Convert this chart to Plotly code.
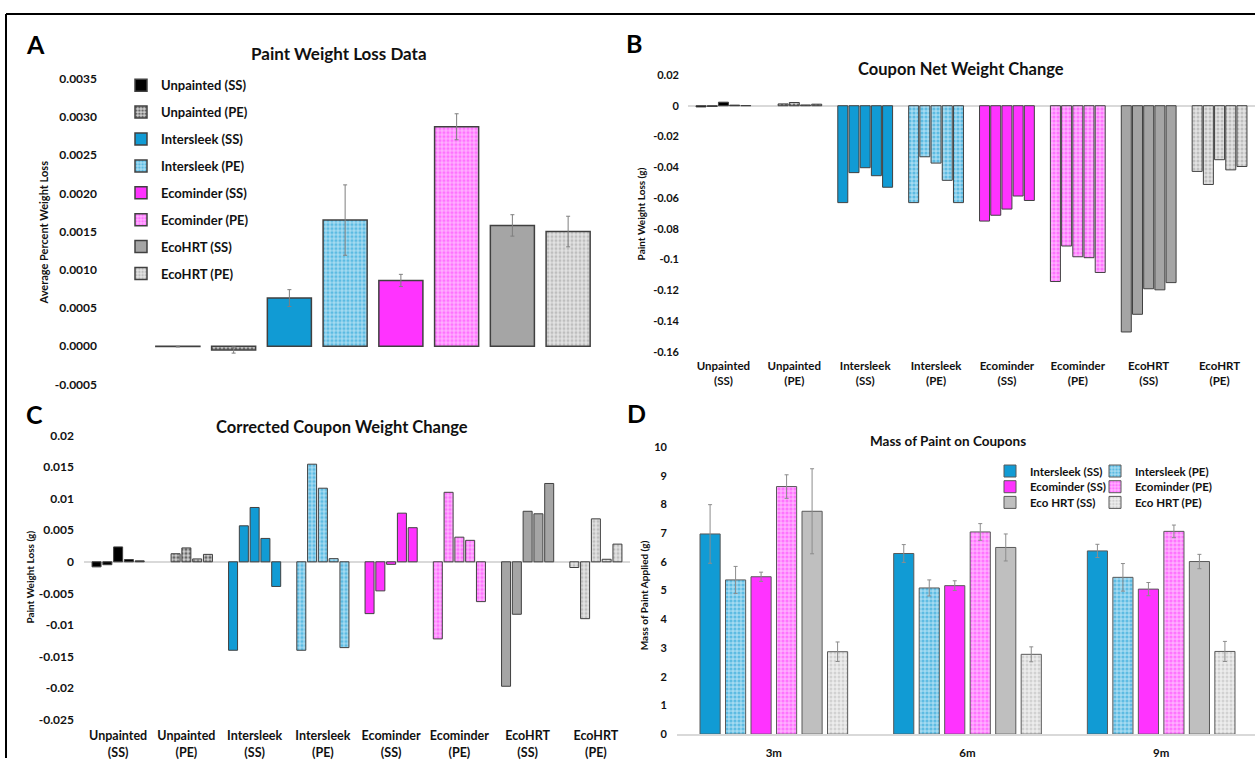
import plotly.graph_objects as go

W, H = 1255, 765

# ---------------- data ----------------
groups = ["Unpainted (SS)", "Unpainted (PE)", "Intersleek (SS)", "Intersleek (PE)",
          "Ecominder (SS)", "Ecominder (PE)", "EcoHRT (SS)", "EcoHRT (PE)"]
group_ticks = ["Unpainted<br>(SS)", "Unpainted<br>(PE)", "Intersleek<br>(SS)", "Intersleek<br>(PE)",
               "Ecominder<br>(SS)", "Ecominder<br>(PE)", "EcoHRT<br>(SS)", "EcoHRT<br>(PE)"]

# Panel A: average percent weight loss and error
loss_pct = [-0.000005, -0.00005, 0.00063, 0.00165, 0.00086, 0.00287, 0.00158, 0.00150]
loss_pct_err = [0.000005, 0.00004, 0.00011, 0.00046, 0.00008, 0.00017, 0.00014, 0.00020]
a_ticks = [0.0035, 0.0030, 0.0025, 0.0020, 0.0015, 0.0010, 0.0005, 0.0, -0.0005]
a_ticktext = ["0.0035", "0.0030", "0.0025", "0.0020", "0.0015", "0.0010", "0.0005", "0.0000", "-0.0005"]

# Panel B: coupon net weight change (5 coupons per group)
net_unpainted_ss = [-0.0008, -0.0005, 0.0023, 0.0004, 0.0001]
net_unpainted_pe = [None, 0.0012, 0.0021, 0.0005, 0.0010]
net_intersleek_ss = [-0.0630, -0.0435, -0.0403, -0.0455, -0.0530]
net_intersleek_pe = [-0.0630, -0.0332, -0.0373, -0.0485, -0.0630]
net_ecominder_ss = [-0.0750, -0.0712, -0.0672, -0.0587, -0.0616]
net_ecominder_pe = [-0.1143, -0.0912, -0.0982, -0.0988, -0.1084]
net_ecohrt_ss = [-0.1471, -0.1356, -0.1190, -0.1197, -0.1150]
net_ecohrt_pe = [-0.0427, -0.0512, -0.0351, -0.0417, -0.0395]
b_ticks = [0.02, 0, -0.02, -0.04, -0.06, -0.08, -0.1, -0.12, -0.14, -0.16]
b_ticktext = ["0.02", "0", "-0.02", "-0.04", "-0.06", "-0.08", "-0.1", "-0.12", "-0.14", "-0.16"]

# Panel C: corrected coupon weight change
cor_unpainted_ss = [-0.0008, -0.00046, 0.00236, 0.00036, 0.00015]
cor_unpainted_pe = [None, 0.00128, 0.0022, 0.00046, 0.00118]
cor_intersleek_ss = [-0.0140, 0.0057, 0.0086, 0.0037, -0.0039]
cor_intersleek_pe = [-0.0140, 0.01545, 0.01165, 0.0005, -0.01358]
cor_ecominder_ss = [-0.0082, -0.0046, -0.0004, 0.0077, 0.0054]
cor_ecominder_pe = [-0.0122, 0.0110, 0.0039, 0.0034, -0.0063]
cor_ecohrt_ss = [-0.0197, -0.0083, 0.0080, 0.0076, 0.0124]
cor_ecohrt_pe = [-0.0009, -0.0090, 0.0068, 0.0004, 0.0028]
c_ticks = [0.02, 0.015, 0.01, 0.005, 0, -0.005, -0.01, -0.015, -0.02, -0.025]
c_ticktext = ["0.02", "0.015", "0.01", "0.005", "0", "-0.005", "-0.01", "-0.015", "-0.02", "-0.025"]

# Panel D: mass of paint on coupons
months = ["3m", "6m", "9m"]
mass_series = ["Intersleek (SS)", "Intersleek (PE)", "Ecominder (SS)",
               "Ecominder (PE)", "Eco HRT (SS)", "Eco HRT (PE)"]
mass_intersleek_ss = [6.97, 6.29, 6.38]
mass_intersleek_pe = [5.37, 5.09, 5.46]
mass_ecominder_ss = [5.48, 5.17, 5.05]
mass_ecominder_pe = [8.62, 7.04, 7.06]
mass_ecohrt_ss = [7.76, 6.50, 6.01]
mass_ecohrt_pe = [2.87, 2.78, 2.88]
err_intersleek_ss = [1.02, 0.31, 0.23]
err_intersleek_pe = [0.47, 0.28, 0.48]
err_ecominder_ss = [0.16, 0.17, 0.23]
err_ecominder_pe = [0.41, 0.29, 0.22]
err_ecohrt_ss = [1.48, 0.47, 0.25]
err_ecohrt_pe = [0.34, 0.26, 0.35]
d_ticks = [0, 1, 2, 3, 4, 5, 6, 7, 8, 9, 10]

# ---------------- style ----------------
BLUE = "#119BD4"
MAG = "#FF33FF"
GRAY = "#A5A5A5"
GRAY_D = "#BFBFBF"
BLACK = "#000000"
EDGE = "#404040"
FONT = "Lato"
TXT = "#111111"

cat_fill = [BLACK, "white", BLUE, "white", MAG, "white", GRAY, "white"]
cat_fg = [BLACK, BLACK, BLUE, BLUE, MAG, MAG, GRAY, "#9A9A9A"]
cat_bg = ["white", "#D0D0D0", "white", "#A6DBF1", "white", "#FFB0FF", "white", "#E2E2E2"]
cat_shape = ["", ".", "", ".", "", ".", "", "."]
cat_solid = [0.3, 0.5, 0.3, 0.5, 0.3, 0.5, 0.3, 0.45]


def px(x):
    return x / W


def py(y):
    return 1 - y / H


def f(size, color=TXT):
    return dict(family=FONT, size=size, color=color, weight=700)


def bar_marker(i, lw):
    m = dict(color=cat_fill[i], line=dict(color=EDGE, width=lw))
    if cat_shape[i]:
        m["pattern"] = dict(shape=cat_shape[i], fgcolor=cat_fg[i], bgcolor=cat_bg[i],
                            size=4, solidity=cat_solid[i])
    return m


fig = go.Figure()

# ---- Panel A ----
for i, g in enumerate(groups):
    fig.add_trace(go.Bar(
        x=[g], y=[loss_pct[i]], name=g, legend="legend", legendgroup=g,
        offsetgroup="A", xaxis="x", yaxis="y",
        error_y=dict(type="data", array=[loss_pct_err[i]], color="#7F7F7F", thickness=1, width=2),
        marker=bar_marker(i, 1.5),
    ))

# ---- Panel B & C (one trace per group & coupon, coupons share offset slots) ----
net_lists = [net_unpainted_ss, net_unpainted_pe, net_intersleek_ss, net_intersleek_pe,
             net_ecominder_ss, net_ecominder_pe, net_ecohrt_ss, net_ecohrt_pe]
cor_lists = [cor_unpainted_ss, cor_unpainted_pe, cor_intersleek_ss, cor_intersleek_pe,
             cor_ecominder_ss, cor_ecominder_pe, cor_ecohrt_ss, cor_ecohrt_pe]

for lists, xa, ya, wd, tag in [(net_lists, "x2", "y2", 0.141, "B"), (cor_lists, "x3", "y3", 0.132, "C")]:
    for i, g in enumerate(groups):
        for r in range(5):
            fig.add_trace(go.Bar(
                x=[g], y=[lists[i][r]], xaxis=xa, yaxis=ya, showlegend=False,
                offsetgroup=f"{tag}{r}", width=wd, marker=bar_marker(i, 1),
            ))

# ---- Panel D ----
mass_vals = [mass_intersleek_ss, mass_intersleek_pe, mass_ecominder_ss,
             mass_ecominder_pe, mass_ecohrt_ss, mass_ecohrt_pe]
mass_errs = [err_intersleek_ss, err_intersleek_pe, err_ecominder_ss,
             err_ecominder_pe, err_ecohrt_ss, err_ecohrt_pe]
d_fill = [BLUE, "white", MAG, "white", GRAY_D, "white"]
d_fg = [BLUE, BLUE, MAG, MAG, GRAY_D, "#B5B5B5"]
d_bg = ["white", "#A6DBF1", "white", "#FFB0FF", "white", "#EDEDED"]
d_shape = ["", ".", "", ".", "", "."]
d_solid = [0.3, 0.5, 0.3, 0.5, 0.3, 0.45]
d_legends = ["legend3", "legend4", "legend5", "legend6", "legend7", "legend8"]
for k, s in enumerate(mass_series):
    mk = dict(color=d_fill[k], line=dict(color="#595959", width=1))
    if d_shape[k]:
        mk["pattern"] = dict(shape=d_shape[k], fgcolor=d_fg[k], bgcolor=d_bg[k],
                             size=4, solidity=d_solid[k])
    fig.add_trace(go.Bar(
        x=months, y=mass_vals[k], name=s, xaxis="x4", yaxis="y4",
        legend=d_legends[k], width=0.104,
        error_y=dict(type="data", array=mass_errs[k], color="#8C8C8C", thickness=1, width=2),
        marker=mk,
    ))

common_y = dict(showgrid=False, ticks="", showline=False)
common_x = dict(showgrid=False, ticks="", showline=False, zeroline=False, type="category")

# one single-entry legend per cell of panel D's 2-column legend
d_leg_layout = {}
for k, name in enumerate(d_legends):
    col, row = k % 2, k // 2
    d_leg_layout[name] = dict(x=px(990 + 105 * col), y=py(457.5 + 16 * row),
                              xanchor="left", yanchor="top",
                              font=f(11.5), bgcolor="rgba(0,0,0,0)")

fig.update_layout(
    width=W, height=H, margin=dict(l=0, r=0, t=0, b=0),
    paper_bgcolor="white", plot_bgcolor="white",
    barmode="group", bargap=0.21, bargroupgap=0,
    font=dict(family=FONT, color=TXT),
    xaxis=dict(domain=[px(150), px(596)], anchor="y", range=[-0.5, 7.5],
               categoryorder="array", categoryarray=groups, showticklabels=False, **common_x),
    yaxis=dict(domain=[py(384), py(72)], anchor="x", range=[-0.0005, 0.0035],
               tickvals=a_ticks, ticktext=a_ticktext, tickfont=f(12), zeroline=False,
               ticklabelstandoff=52, **common_y),
    xaxis2=dict(domain=[px(688), 1], anchor="y2", range=[-0.5, 7.5],
                categoryorder="array", categoryarray=groups,
                tickvals=groups, ticktext=group_ticks, tickfont=f(11.5), ticklabelstandoff=6, **common_x),
    yaxis2=dict(domain=[py(350.7), py(68.3)], anchor="x2", range=[-0.16, 0.02],
                tickvals=b_ticks, ticktext=b_ticktext, tickfont=f(11),
                zeroline=True, zerolinecolor="#D9D9D9", zerolinewidth=1.5,
                ticklabelstandoff=8, **common_y),
    xaxis3=dict(domain=[px(84), px(630)], anchor="y3", range=[-0.5, 7.5],
                categoryorder="array", categoryarray=groups,
                tickvals=groups, ticktext=group_ticks, tickfont=f(12.5), ticklabelstandoff=7, **common_x),
    yaxis3=dict(domain=[py(726), py(436)], anchor="x3", range=[-0.025, 0.02],
                tickvals=c_ticks, ticktext=c_ticktext, tickfont=f(12),
                zeroline=True, zerolinecolor="#D9D9D9", zerolinewidth=1.5,
                ticklabelstandoff=9, **common_y),
    xaxis4=dict(domain=[px(677), 1], anchor="y4",
                range=[-0.5, -0.5 + 3 * (W - 677) / (1258 - 677)],
                tickfont=f(11.5), ticklabelstandoff=7,
                showgrid=False, ticks="", zeroline=False, type="category",
                showline=True, linecolor="#D9D9D9", linewidth=1.5),
    yaxis4=dict(domain=[py(740.7), py(447.7)], anchor="x4", range=[0, 10],
                tickvals=d_ticks, tickfont=f(11), zeroline=False,
                ticklabelstandoff=9, **common_y),
    legend=dict(x=px(121), y=py(63.5), xanchor="left", yanchor="top",
                font=f(13), tracegroupgap=7, bgcolor="rgba(0,0,0,0)"),
    **d_leg_layout,
)

annotations = [
    # panel letters
    dict(text="A", x=px(35), y=py(37), font=f(25, "#000000")),
    dict(text="B", x=px(634), y=py(36), font=f(25, "#000000")),
    dict(text="C", x=px(34), y=py(414), font=f(25, "#000000")),
    dict(text="D", x=px(636), y=py(413), font=f(25, "#000000")),
    # titles
    dict(text="Paint Weight Loss Data", x=px(339), y=py(46), font=f(17)),
    dict(text="Coupon Net Weight Change", x=px(961), y=py(62), font=f(16.5)),
    dict(text="Corrected Coupon Weight Change", x=px(342), y=py(427), font=f(16.5)),
    dict(text="Mass of Paint on Coupons", x=px(948), y=py(442), font=f(13.5)),
    # y-axis titles
    dict(text="Average Percent Weight Loss", x=px(44), y=py(229), textangle=-90, font=f(11)),
    dict(text="Paint Weight Loss (g)", x=px(640.5), y=py(210), textangle=-90, font=f(10)),
    dict(text="Paint Weight Loss (g)", x=px(30), y=py(581), textangle=-90, font=f(10)),
    dict(text="Mass of Paint Applied (g)", x=px(644), y=py(599), textangle=-90, font=f(10)),
]
for a in annotations:
    a.update(xref="paper", yref="paper", showarrow=False, xanchor="center", yanchor="middle")
fig.update_layout(annotations=annotations)

# outer frame (top and left edges visible)
fig.add_shape(type="line", xref="paper", yref="paper", x0=px(6), y0=py(6), x1=1, y1=py(6),
              line=dict(color="#000000", width=2))
fig.add_shape(type="line", xref="paper", yref="paper", x0=px(6), y0=py(6), x1=px(6), y1=0,
              line=dict(color="#000000", width=2))

fig.write_html("out.html", post_script="document.body.style.margin='0px';")
